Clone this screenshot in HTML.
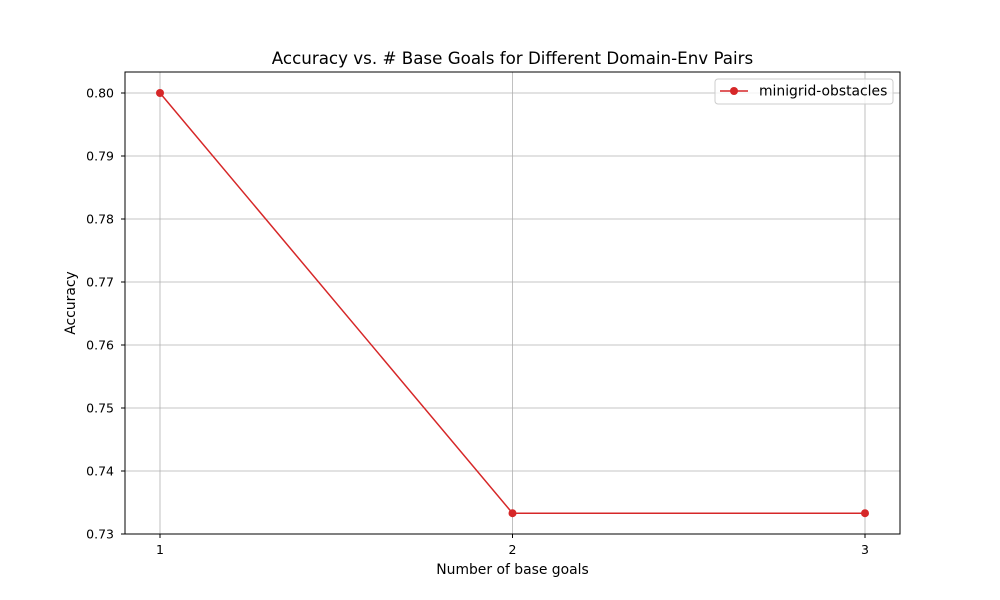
<!DOCTYPE html>
<html><head><meta charset="utf-8"><style>
body{margin:0;background:#fff;}
svg{display:block;font-family:"DejaVu Sans","Liberation Sans",sans-serif;}
</style></head><body>
<svg id="chart" width="1000" height="600">
<rect x="0" y="0" width="1000" height="600" fill="#fff"/>
<g id="grid"></g>
<g id="xticks"></g>
<g id="yticks"></g>
<g id="series"></g>
<rect x="125" y="72" width="775" height="462" fill="none" stroke="#000" stroke-width="1"/>
<text x="512.5" y="64" text-anchor="middle" font-size="16.7">Accuracy vs. # Base Goals for Different Domain-Env Pairs</text>
<text x="512.5" y="574" text-anchor="middle" font-size="13.9">Number of base goals</text>
<text x="75" y="303" text-anchor="middle" font-size="13.9" transform="rotate(-90 75 303)">Accuracy</text>
<g>
<rect x="715" y="79" width="178" height="25" rx="3" fill="#fff" fill-opacity="0.8" stroke="#ccc"/>
<line x1="720" y1="91" x2="748" y2="91" stroke="#d62728" stroke-width="1.5"/>
<circle cx="734" cy="91" r="4" fill="#d62728"/>
<text x="759" y="95.5" font-size="13.9">minigrid-obstacles</text>
</g>
</svg>
<script>
const categories=[1,2,3];
const accuracy=[0.8,0.7333,0.7333];
const yTicks=[0.73,0.74,0.75,0.76,0.77,0.78,0.79,0.80];
const yTickLabels=["0.73","0.74","0.75","0.76","0.77","0.78","0.79","0.80"];
const NS="http://www.w3.org/2000/svg";
function xs(v){return 160+(v-1)*352.5;}
function ys(v){return 534-(v-0.73)/0.07*441;}
function mk(tag,attrs,parent){const e=document.createElementNS(NS,tag);for(const k in attrs)e.setAttribute(k,attrs[k]);document.getElementById(parent).appendChild(e);return e;}
categories.forEach(c=>{
 const x=xs(c);
 let g=mk('line',{x1:x,x2:x,y1:72,y2:534,stroke:'#b0b0b0','stroke-width':0.8},'grid');
 
 
 let t=mk('line',{x1:x,x2:x,y1:534,y2:538,stroke:'#000'},'xticks');
 
 
 let l=mk('text',{x:x,y:554,'text-anchor':'middle','font-size':12.5},'xticks');
 l.textContent=c;
 
 
});
yTicks.forEach((v,i)=>{
 const y=ys(v);
 let g=mk('line',{x1:125,x2:900,y1:y,y2:y,stroke:'#b0b0b0','stroke-width':0.8},'grid');
 
 
 let t=mk('line',{x1:121,x2:125,y1:y,y2:y,stroke:'#000'},'yticks');
 
 
 let l=mk('text',{x:114,y:y+4.5,'text-anchor':'end','font-size':12.5},'yticks');
 l.textContent=yTickLabels[i];
 
 
});
const pts=categories.map((c,i)=>xs(c)+','+ys(accuracy[i])).join(' ');
let pl=mk('polyline',{points:pts,fill:'none',stroke:'#d62728','stroke-width':1.5},'series');


categories.forEach((c,i)=>{
 let p=mk('circle',{cx:xs(c),cy:ys(accuracy[i]),r:4,fill:'#d62728'},'series');
 
 
});
</script>
</body></html>
